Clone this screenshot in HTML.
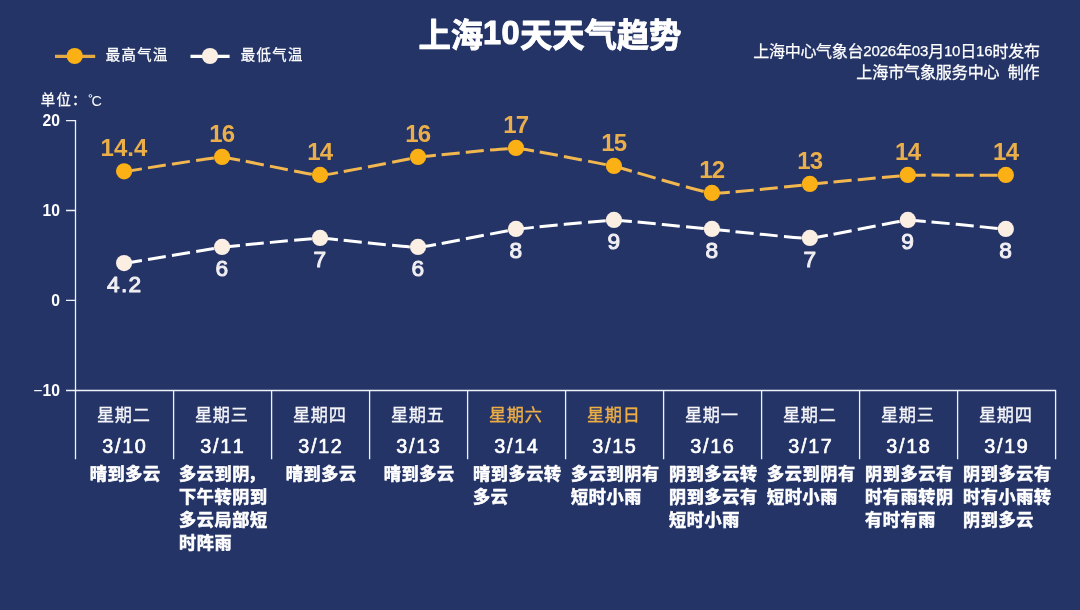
<!DOCTYPE html>
<html lang="zh-CN">
<head>
<meta charset="utf-8">
<title>上海10天天气趋势</title>
<style>
html,body{margin:0;padding:0;background:#243467}
body{width:1080px;height:610px;overflow:hidden;font-family:"Liberation Sans","Noto Sans CJK SC",sans-serif}
svg{display:block;font-family:"Liberation Sans","Noto Sans CJK SC",sans-serif;filter:opacity(1)}
</style>
</head>
<body>
<svg width="1080" height="610" viewBox="0 0 1080 610">
<rect width="1080" height="610" fill="#243467"/>
<text x="418.4 450.65 482.9 501.47 520.05 552.3 584.55 616.8 649.05" y="46.7 46.7 44.4 44.4 46.7 46.7 46.7 46.7 46.7" font-size="32.5" fill="#ffffff" font-weight="700" stroke="#ffffff" stroke-width="1.1" stroke-linejoin="round"><tspan font-size="32.4" stroke-width="0.9">上海</tspan><tspan>10</tspan><tspan font-size="32.4" stroke-width="0.9">天天气趋势</tspan></text>
<text x="753.22 768.94 784.66 800.38 816.1 831.82 847.54 863.26 871.46 879.66 887.86 896.07 911.79 919.99 928.19 943.91 952.11 960.32 976.04 984.24 992.44 1008.16 1023.88" y="56.7 56.7 56.7 56.7 56.7 56.7 56.7 56.1 56.1 56.1 56.1 56.7 56.1 56.1 56.7 56.1 56.1 56.7 56.1 56.1 56.7 56.7 56.7" font-size="15" fill="#ffffff" stroke="#ffffff" stroke-width="0.25" stroke-linejoin="round"><tspan font-size="16">上海中心气象台</tspan><tspan>2026</tspan><tspan font-size="16">年</tspan><tspan>03</tspan><tspan font-size="16">月</tspan><tspan>10</tspan><tspan font-size="16">日</tspan><tspan>16</tspan><tspan font-size="16">时发布</tspan></text>
<text x="856.33 872.23 888.13 904.03 919.93 935.83 951.73 967.63 983.53 999.43 1007.7 1023.6" y="78.4" font-size="15" fill="#ffffff"><tspan font-size="16" stroke="#ffffff" stroke-width="0.3">上海市气象服务中心</tspan><tspan> </tspan><tspan font-size="16" stroke="#ffffff" stroke-width="0.3">制作</tspan></text>
<path d="M55 56.3H95.2" stroke="#f5b445" stroke-width="3.2" opacity=".92"/>
<circle cx="74.7" cy="56" r="8.1" fill="#fbb116"/>
<text x="105.85 121.55 137.25 152.95" y="60.2" font-size="14.4" fill="#ffffff"><tspan font-size="14.4" stroke="#ffffff" stroke-width="0.3">最高气温</tspan></text>
<path d="M190.5 56.3H229.6" stroke="#fff" stroke-width="3.2"/>
<circle cx="210" cy="56" r="8.1" fill="#fbeee2"/>
<text x="240.85 256.55 272.25 287.95" y="60.2" font-size="14.4" fill="#ffffff"><tspan font-size="14.4" stroke="#ffffff" stroke-width="0.3">最低气温</tspan></text>
<text x="40.85 56.45 72.05" y="105.2" font-size="14.3" fill="#ffffff"><tspan font-size="14.3" stroke="#ffffff" stroke-width="0.3">单位：</tspan></text>
<circle cx="90.4" cy="95.9" r="1.35" fill="none" stroke="#fff" stroke-width=".9"/>
<text x="91.6" y="105.5" font-size="14.4" fill="#fff">C</text>
<path d="M75.5 119.95 V459.3 M66 390.5 H1056.2 M66 120.6 H75.5 M66 210.5 H75.5 M66 300.4 H75.5 M173.6 390.5 V459.3 M271.6 390.5 V459.3 M369.6 390.5 V459.3 M467.6 390.5 V459.3 M565.6 390.5 V459.3 M663.6 390.5 V459.3 M761.6 390.5 V459.3 M859.6 390.5 V459.3 M957.6 390.5 V459.3 M1055.6 390.5 V459.3" stroke="#eef1f8" stroke-width="1.3" fill="none"/>
<text x="59.9" y="125.9" font-size="15.7" font-weight="700" fill="#fff" text-anchor="end">20</text>
<text x="59.9" y="215.8" font-size="15.7" font-weight="700" fill="#fff" text-anchor="end">10</text>
<text x="59.9" y="305.7" font-size="15.7" font-weight="700" fill="#fff" text-anchor="end">0</text>
<text x="59.9" y="395.8" font-size="15.7" font-weight="700" fill="#fff" text-anchor="end"><tspan font-weight="400">−</tspan>10</text>
<g fill="none" stroke="#f2b74e" stroke-width="3" stroke-dasharray="17.9 6.03"><path pathLength="97.97" d="M124.1 171.7C128.51 171.05 213.25 157.14 222.07 157.3"/><path pathLength="97.97" d="M222.07 157.3C230.89 157.46 311.22 175.3 320.04 175.3"/><path pathLength="97.97" d="M320.04 175.3C328.86 175.3 409.19 158.51 418.01 157.3"/><path pathLength="97.97" d="M418.01 157.3C426.83 156.08 507.16 147.89 515.98 148.3"/><path pathLength="97.97" d="M515.98 148.3C524.8 148.7 605.13 164.27 613.95 166.3"/><path pathLength="97.97" d="M613.95 166.3C622.77 168.32 703.1 192.49 711.92 193.3"/><path pathLength="97.97" d="M711.92 193.3C720.74 194.11 801.07 185.11 809.89 184.3"/><path pathLength="97.97" d="M809.89 184.3C818.71 183.49 899.04 175.7 907.86 175.3"/><path pathLength="97.97" d="M907.86 175.3C916.68 174.89 1001.42 175.3 1005.83 175.3"/></g>
<g fill="none" stroke="#fff" stroke-width="3" stroke-dasharray="17.9 6.03"><path pathLength="97.97" d="M124.1 263.5C128.51 262.77 213.25 248.43 222.07 247.3"/><path pathLength="97.97" d="M222.07 247.3C230.89 246.17 311.22 238.3 320.04 238.3"/><path pathLength="97.97" d="M320.04 238.3C328.86 238.3 409.19 247.7 418.01 247.3"/><path pathLength="97.97" d="M418.01 247.3C426.83 246.89 507.16 230.51 515.98 229.3"/><path pathLength="97.97" d="M515.98 229.3C524.8 228.08 605.13 220.3 613.95 220.3"/><path pathLength="97.97" d="M613.95 220.3C622.77 220.3 703.1 228.49 711.92 229.3"/><path pathLength="97.97" d="M711.92 229.3C720.74 230.11 801.07 238.7 809.89 238.3"/><path pathLength="97.97" d="M809.89 238.3C818.71 237.89 899.04 220.7 907.86 220.3"/><path pathLength="97.97" d="M907.86 220.3C916.68 219.89 1001.42 228.89 1005.83 229.3"/></g>
<g fill="#fbb116"><circle cx="124.1" cy="171.3" r="8.1"/><circle cx="222.07" cy="156.9" r="8.1"/><circle cx="320.04" cy="174.9" r="8.1"/><circle cx="418.01" cy="156.9" r="8.1"/><circle cx="515.98" cy="147.9" r="8.1"/><circle cx="613.95" cy="165.9" r="8.1"/><circle cx="711.92" cy="192.9" r="8.1"/><circle cx="809.89" cy="183.9" r="8.1"/><circle cx="907.86" cy="174.9" r="8.1"/><circle cx="1005.83" cy="174.9" r="8.1"/></g>
<g fill="#fbeee2"><circle cx="124.1" cy="263.1" r="8.1"/><circle cx="222.07" cy="246.9" r="8.1"/><circle cx="320.04" cy="237.9" r="8.1"/><circle cx="418.01" cy="246.9" r="8.1"/><circle cx="515.98" cy="228.9" r="8.1"/><circle cx="613.95" cy="219.9" r="8.1"/><circle cx="711.92" cy="228.9" r="8.1"/><circle cx="809.89" cy="237.9" r="8.1"/><circle cx="907.86" cy="219.9" r="8.1"/><circle cx="1005.83" cy="228.9" r="8.1"/></g>
<text x="100.54 113.89 127.24 133.91" y="156.3" font-size="24" fill="#eaae4a" font-weight="700"><tspan>14.4</tspan></text>
<text x="209.32 221.87" y="141.9" font-size="24" fill="#eaae4a" font-weight="700"><tspan>16</tspan></text>
<text x="307.29 319.84" y="159.9" font-size="24" fill="#eaae4a" font-weight="700"><tspan>14</tspan></text>
<text x="405.26 417.81" y="141.9" font-size="24" fill="#eaae4a" font-weight="700"><tspan>16</tspan></text>
<text x="503.23 515.78" y="132.9" font-size="24" fill="#eaae4a" font-weight="700"><tspan>17</tspan></text>
<text x="601.2 613.75" y="150.9" font-size="24" fill="#eaae4a" font-weight="700"><tspan>15</tspan></text>
<text x="699.17 711.72" y="177.9" font-size="24" fill="#eaae4a" font-weight="700"><tspan>12</tspan></text>
<text x="797.14 809.69" y="168.9" font-size="24" fill="#eaae4a" font-weight="700"><tspan>13</tspan></text>
<text x="895.11 907.66" y="159.9" font-size="24" fill="#eaae4a" font-weight="700"><tspan>14</tspan></text>
<text x="993.08 1005.63" y="159.9" font-size="24" fill="#eaae4a" font-weight="700"><tspan>14</tspan></text>
<text x="107.07 121 128.6" y="292.4" font-size="22.7" fill="#f1eff2" stroke="#f1eff2" stroke-width="1" stroke-linejoin="round"><tspan>4.2</tspan></text>
<text x="215.56" y="276.2" font-size="22.7" fill="#f1eff2" stroke="#f1eff2" stroke-width="1" stroke-linejoin="round"><tspan>6</tspan></text>
<text x="313.53" y="267.2" font-size="22.7" fill="#f1eff2" stroke="#f1eff2" stroke-width="1" stroke-linejoin="round"><tspan>7</tspan></text>
<text x="411.5" y="276.2" font-size="22.7" fill="#f1eff2" stroke="#f1eff2" stroke-width="1" stroke-linejoin="round"><tspan>6</tspan></text>
<text x="509.47" y="258.2" font-size="22.7" fill="#f1eff2" stroke="#f1eff2" stroke-width="1" stroke-linejoin="round"><tspan>8</tspan></text>
<text x="607.44" y="249.2" font-size="22.7" fill="#f1eff2" stroke="#f1eff2" stroke-width="1" stroke-linejoin="round"><tspan>9</tspan></text>
<text x="705.41" y="258.2" font-size="22.7" fill="#f1eff2" stroke="#f1eff2" stroke-width="1" stroke-linejoin="round"><tspan>8</tspan></text>
<text x="803.38" y="267.2" font-size="22.7" fill="#f1eff2" stroke="#f1eff2" stroke-width="1" stroke-linejoin="round"><tspan>7</tspan></text>
<text x="901.35" y="249.2" font-size="22.7" fill="#f1eff2" stroke="#f1eff2" stroke-width="1" stroke-linejoin="round"><tspan>9</tspan></text>
<text x="999.32" y="258.2" font-size="22.7" fill="#f1eff2" stroke="#f1eff2" stroke-width="1" stroke-linejoin="round"><tspan>8</tspan></text>
<text x="96.9 114.8 132.7" y="421.3" font-size="17.2" fill="#f4f5f9"><tspan font-size="17.2" stroke="#f4f5f9" stroke-width="0.35">星期二</tspan></text>
<text x="102.23 114.94 122.14 134.86" y="452.6" font-size="19.8" fill="#fff" stroke="#fff" stroke-width="0.65" stroke-linejoin="round"><tspan>3/10</tspan></text>
<text x="89.72 107.47 125.22 142.97" y="480.4" font-size="17.1" fill="#fff" font-weight="700"><tspan font-size="17.1" stroke="#fff" stroke-width="0.6">晴到多云</tspan></text>
<text x="194.9 212.8 230.7" y="421.3" font-size="17.2" fill="#f4f5f9"><tspan font-size="17.2" stroke="#f4f5f9" stroke-width="0.35">星期三</tspan></text>
<text x="200.23 212.94 220.14 232.86" y="452.6" font-size="19.8" fill="#fff" stroke="#fff" stroke-width="0.65" stroke-linejoin="round"><tspan>3/11</tspan></text>
<text x="178.92 196.67 214.42 232.17 248.04" y="480.4" font-size="17.1" fill="#fff" font-weight="700"><tspan font-size="17.1" stroke="#fff" stroke-width="0.6">多云到阴，</tspan></text>
<text x="178.92 196.67 214.42 232.17 249.92" y="503.3" font-size="17.1" fill="#fff" font-weight="700"><tspan font-size="17.1" stroke="#fff" stroke-width="0.6">下午转阴到</tspan></text>
<text x="178.92 196.67 214.42 232.17 249.92" y="526.2" font-size="17.1" fill="#fff" font-weight="700"><tspan font-size="17.1" stroke="#fff" stroke-width="0.6">多云局部短</tspan></text>
<text x="178.92 196.67 214.42" y="549.1" font-size="17.1" fill="#fff" font-weight="700"><tspan font-size="17.1" stroke="#fff" stroke-width="0.6">时阵雨</tspan></text>
<text x="292.9 310.8 328.7" y="421.3" font-size="17.2" fill="#f4f5f9"><tspan font-size="17.2" stroke="#f4f5f9" stroke-width="0.35">星期四</tspan></text>
<text x="298.23 310.94 318.14 330.86" y="452.6" font-size="19.8" fill="#fff" stroke="#fff" stroke-width="0.65" stroke-linejoin="round"><tspan>3/12</tspan></text>
<text x="285.73 303.48 321.23 338.98" y="480.4" font-size="17.1" fill="#fff" font-weight="700"><tspan font-size="17.1" stroke="#fff" stroke-width="0.6">晴到多云</tspan></text>
<text x="390.9 408.8 426.7" y="421.3" font-size="17.2" fill="#f4f5f9"><tspan font-size="17.2" stroke="#f4f5f9" stroke-width="0.35">星期五</tspan></text>
<text x="396.23 408.94 416.14 428.86" y="452.6" font-size="19.8" fill="#fff" stroke="#fff" stroke-width="0.65" stroke-linejoin="round"><tspan>3/13</tspan></text>
<text x="383.73 401.48 419.23 436.98" y="480.4" font-size="17.1" fill="#fff" font-weight="700"><tspan font-size="17.1" stroke="#fff" stroke-width="0.6">晴到多云</tspan></text>
<text x="488.9 506.8 524.7" y="421.3" font-size="17.2" fill="#edae45"><tspan font-size="17.2" stroke="#edae45" stroke-width="0.35">星期六</tspan></text>
<text x="494.23 506.94 514.14 526.86" y="452.6" font-size="19.8" fill="#fff" stroke="#fff" stroke-width="0.65" stroke-linejoin="round"><tspan>3/14</tspan></text>
<text x="472.93 490.68 508.43 526.18 543.93" y="480.4" font-size="17.1" fill="#fff" font-weight="700"><tspan font-size="17.1" stroke="#fff" stroke-width="0.6">晴到多云转</tspan></text>
<text x="472.93 490.68" y="503.3" font-size="17.1" fill="#fff" font-weight="700"><tspan font-size="17.1" stroke="#fff" stroke-width="0.6">多云</tspan></text>
<text x="586.9 604.8 622.7" y="421.3" font-size="17.2" fill="#edae45"><tspan font-size="17.2" stroke="#edae45" stroke-width="0.35">星期日</tspan></text>
<text x="592.23 604.94 612.14 624.86" y="452.6" font-size="19.8" fill="#fff" stroke="#fff" stroke-width="0.65" stroke-linejoin="round"><tspan>3/15</tspan></text>
<text x="570.93 588.68 606.43 624.18 641.93" y="480.4" font-size="17.1" fill="#fff" font-weight="700"><tspan font-size="17.1" stroke="#fff" stroke-width="0.6">多云到阴有</tspan></text>
<text x="570.93 588.68 606.43 624.18" y="503.3" font-size="17.1" fill="#fff" font-weight="700"><tspan font-size="17.1" stroke="#fff" stroke-width="0.6">短时小雨</tspan></text>
<text x="684.9 702.8 720.7" y="421.3" font-size="17.2" fill="#f4f5f9"><tspan font-size="17.2" stroke="#f4f5f9" stroke-width="0.35">星期一</tspan></text>
<text x="690.23 702.94 710.14 722.86" y="452.6" font-size="19.8" fill="#fff" stroke="#fff" stroke-width="0.65" stroke-linejoin="round"><tspan>3/16</tspan></text>
<text x="668.93 686.68 704.43 722.18 739.93" y="480.4" font-size="17.1" fill="#fff" font-weight="700"><tspan font-size="17.1" stroke="#fff" stroke-width="0.6">阴到多云转</tspan></text>
<text x="668.93 686.68 704.43 722.18 739.93" y="503.3" font-size="17.1" fill="#fff" font-weight="700"><tspan font-size="17.1" stroke="#fff" stroke-width="0.6">阴到多云有</tspan></text>
<text x="668.93 686.68 704.43 722.18" y="526.2" font-size="17.1" fill="#fff" font-weight="700"><tspan font-size="17.1" stroke="#fff" stroke-width="0.6">短时小雨</tspan></text>
<text x="782.9 800.8 818.7" y="421.3" font-size="17.2" fill="#f4f5f9"><tspan font-size="17.2" stroke="#f4f5f9" stroke-width="0.35">星期二</tspan></text>
<text x="788.23 800.94 808.14 820.86" y="452.6" font-size="19.8" fill="#fff" stroke="#fff" stroke-width="0.65" stroke-linejoin="round"><tspan>3/17</tspan></text>
<text x="766.93 784.68 802.43 820.18 837.93" y="480.4" font-size="17.1" fill="#fff" font-weight="700"><tspan font-size="17.1" stroke="#fff" stroke-width="0.6">多云到阴有</tspan></text>
<text x="766.93 784.68 802.43 820.18" y="503.3" font-size="17.1" fill="#fff" font-weight="700"><tspan font-size="17.1" stroke="#fff" stroke-width="0.6">短时小雨</tspan></text>
<text x="880.9 898.8 916.7" y="421.3" font-size="17.2" fill="#f4f5f9"><tspan font-size="17.2" stroke="#f4f5f9" stroke-width="0.35">星期三</tspan></text>
<text x="886.23 898.94 906.14 918.86" y="452.6" font-size="19.8" fill="#fff" stroke="#fff" stroke-width="0.65" stroke-linejoin="round"><tspan>3/18</tspan></text>
<text x="864.93 882.68 900.43 918.18 935.93" y="480.4" font-size="17.1" fill="#fff" font-weight="700"><tspan font-size="17.1" stroke="#fff" stroke-width="0.6">阴到多云有</tspan></text>
<text x="864.93 882.68 900.43 918.18 935.93" y="503.3" font-size="17.1" fill="#fff" font-weight="700"><tspan font-size="17.1" stroke="#fff" stroke-width="0.6">时有雨转阴</tspan></text>
<text x="864.93 882.68 900.43 918.18" y="526.2" font-size="17.1" fill="#fff" font-weight="700"><tspan font-size="17.1" stroke="#fff" stroke-width="0.6">有时有雨</tspan></text>
<text x="978.9 996.8 1014.7" y="421.3" font-size="17.2" fill="#f4f5f9"><tspan font-size="17.2" stroke="#f4f5f9" stroke-width="0.35">星期四</tspan></text>
<text x="984.23 996.94 1004.14 1016.86" y="452.6" font-size="19.8" fill="#fff" stroke="#fff" stroke-width="0.65" stroke-linejoin="round"><tspan>3/19</tspan></text>
<text x="962.93 980.68 998.43 1016.18 1033.92" y="480.4" font-size="17.1" fill="#fff" font-weight="700"><tspan font-size="17.1" stroke="#fff" stroke-width="0.6">阴到多云有</tspan></text>
<text x="962.93 980.68 998.43 1016.18 1033.92" y="503.3" font-size="17.1" fill="#fff" font-weight="700"><tspan font-size="17.1" stroke="#fff" stroke-width="0.6">时有小雨转</tspan></text>
<text x="962.93 980.68 998.43 1016.18" y="526.2" font-size="17.1" fill="#fff" font-weight="700"><tspan font-size="17.1" stroke="#fff" stroke-width="0.6">阴到多云</tspan></text>
</svg>
</body>
</html>
